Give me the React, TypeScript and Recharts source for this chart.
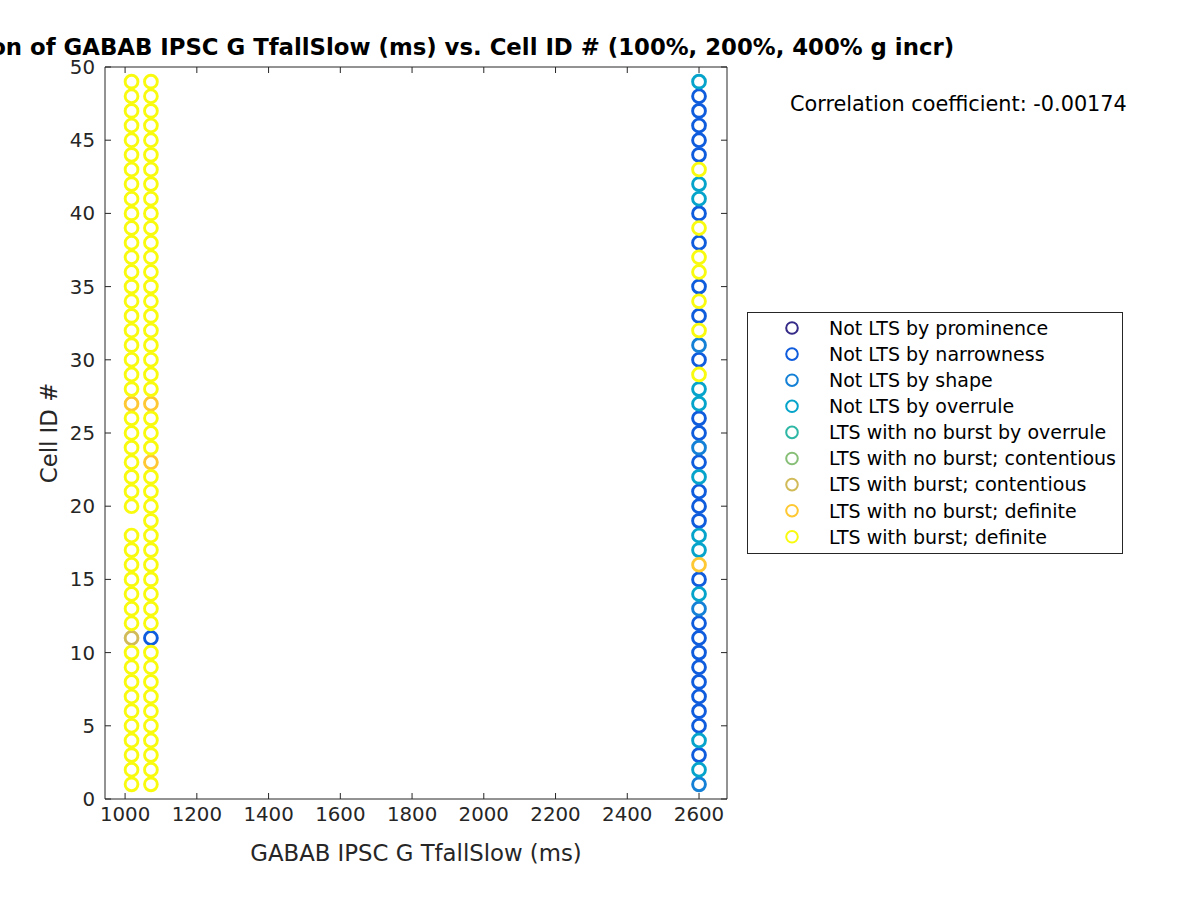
import React from 'react';
import {ScatterChart, Scatter, XAxis, YAxis, Customized} from 'recharts';

// legend classes, in MATLAB parula order
const classNames = [
    'Not LTS by prominence',
    'Not LTS by narrowness',
    'Not LTS by shape',
    'Not LTS by overrule',
    'LTS with no burst by overrule',
    'LTS with no burst; contentious',
    'LTS with burst; contentious',
    'LTS with no burst; definite',
    'LTS with burst; definite',
];
const classColors = ['#352A87', '#0F5CDD', '#1481D6', '#06A4CA', '#2EB7A4', '#87BF77', '#D1BB59', '#FEC832', '#F9FB0E'];

// x position (TfallSlow, ms) of each column of cells
const columnX = [1018, 1072, 2600];

// class (1..9) of cell ID 1..49 in each column, 0 = no point
const columnAClass = [
    9, 9, 9, 9, 9, 9, 9, 9, 9, 9,
    7, 9, 9, 9, 9, 9, 9, 9, 0, 9,
    9, 9, 9, 9, 9, 9, 8, 9, 9, 9,
    9, 9, 9, 9, 9, 9, 9, 9, 9, 9,
    9, 9, 9, 9, 9, 9, 9, 9, 9,
];
const columnBClass = [
    9, 9, 9, 9, 9, 9, 9, 9, 9, 9,
    2, 9, 9, 9, 9, 9, 9, 9, 9, 9,
    9, 9, 8, 9, 9, 9, 8, 9, 9, 9,
    9, 9, 9, 9, 9, 9, 9, 9, 9, 9,
    9, 9, 9, 9, 9, 9, 9, 9, 9,
];
const columnCClass = [
    3, 4, 2, 4, 2, 2, 2, 2, 2, 2,
    2, 2, 3, 4, 2, 8, 4, 4, 2, 2,
    2, 4, 2, 3, 2, 2, 4, 4, 9, 2,
    3, 9, 2, 9, 2, 9, 9, 2, 9, 2,
    4, 4, 9, 2, 2, 2, 2, 2, 4,
];

const xTicks = [1000, 1200, 1400, 1600, 1800, 2000, 2200, 2400, 2600];
const yTicks = [0, 5, 10, 15, 20, 25, 30, 35, 40, 45, 50];

const title = 'Correlation of GABAB IPSC G TfallSlow (ms) vs. Cell ID # (100%, 200%, 400% g incr)';
const xLabel = 'GABAB IPSC G TfallSlow (ms)';
const yLabel = 'Cell ID #';
const corrText = 'Correlation coefficient: -0.00174';

const columns = [columnAClass, columnBClass, columnCClass];
const seriesData = classNames.map((_, k) => {
    const pts: {x: number; y: number}[] = [];
    columns.forEach((col, c) => {
        col.forEach((cls, i) => {
            if (cls === k + 1) pts.push({x: columnX[c], y: i + 1});
        });
    });
    return pts;
});
const allPoints = seriesData.flat();

const axisColor = '#262626';

const ring = (color: string) => (props: any) => (
    <circle cx={props.cx} cy={props.cy} r={6.4} fill="none" stroke={color} strokeWidth={2.9} />
);

const Texts = () => (
    <g>
        <text x={416} y={55} textAnchor="middle" fontSize={22.8} fontWeight="bold" fill="#000">{title}</text>
        <text x={416} y={861} textAnchor="middle" fontSize={22.8} fill={axisColor}>{xLabel}</text>
        <text x={57} y={433} textAnchor="middle" fontSize={22.8} fill={axisColor} transform="rotate(-90, 57, 433)">{yLabel}</text>
        <text x={790} y={111} fontSize={20.8} fill="#000">{corrText}</text>
    </g>
);

const LegendBox = () => (
    <g>
        <rect x={747.5} y={312.5} width={375} height={241} fill="#fff" stroke={axisColor} strokeWidth={1} />
        {classNames.map((name, k) => (
            <g key={name}>
                <circle cx={792} cy={328 + k * 26.1} r={5.8} fill="none" stroke={classColors[k]} strokeWidth={2} />
                <text x={829} y={334.8 + k * 26.1} fontSize={19} fill="#000">{name}</text>
            </g>
        ))}
    </g>
);

const App = () => {
    return (
        <div style={{position: 'absolute', left: 0, top: 0, width: 1200, height: 900, background: '#fff', fontFamily: 'DejaVu Sans'}}>
            <ScatterChart width={1200} height={900} margin={{top: 66, right: 472, bottom: 41, left: 45}}>
                <XAxis xAxisId="b" type="number" dataKey="x" domain={[944, 2678]} ticks={xTicks} allowDataOverflow
                       interval={0} height={60} tickSize={-6} tickMargin={14} stroke={axisColor}
                       tick={{fill: axisColor, fontSize: 19.8}} />
                <XAxis xAxisId="t" orientation="top" type="number" dataKey="x" domain={[944, 2678]} ticks={xTicks}
                       allowDataOverflow interval={0} height={1} tickSize={-6} stroke={axisColor} tick={() => <g />} />
                <YAxis yAxisId="l" type="number" dataKey="y" domain={[0, 50]} ticks={yTicks} allowDataOverflow
                       interval={0} width={60} tickSize={-6} tickMargin={16} stroke={axisColor}
                       tick={{fill: axisColor, fontSize: 19.8}} />
                <YAxis yAxisId="r" orientation="right" type="number" dataKey="y" domain={[0, 50]} ticks={yTicks}
                       allowDataOverflow interval={0} width={1} tickSize={-6} stroke={axisColor} tick={() => <g />} />
                {/* binds the top/right frame axes so they are drawn */}
                <Scatter data={allPoints} xAxisId="t" yAxisId="r" shape={() => <g />} isAnimationActive={false} legendType="none" />
                {seriesData.map((data, k) => (
                    <Scatter key={classNames[k]} name={classNames[k]} data={data} xAxisId="b" yAxisId="l"
                             fill={classColors[k]} shape={ring(classColors[k])} isAnimationActive={false} />
                ))}
                <Customized component={Texts} />
                <Customized component={LegendBox} />
            </ScatterChart>
        </div>
    );
};

export default App;
